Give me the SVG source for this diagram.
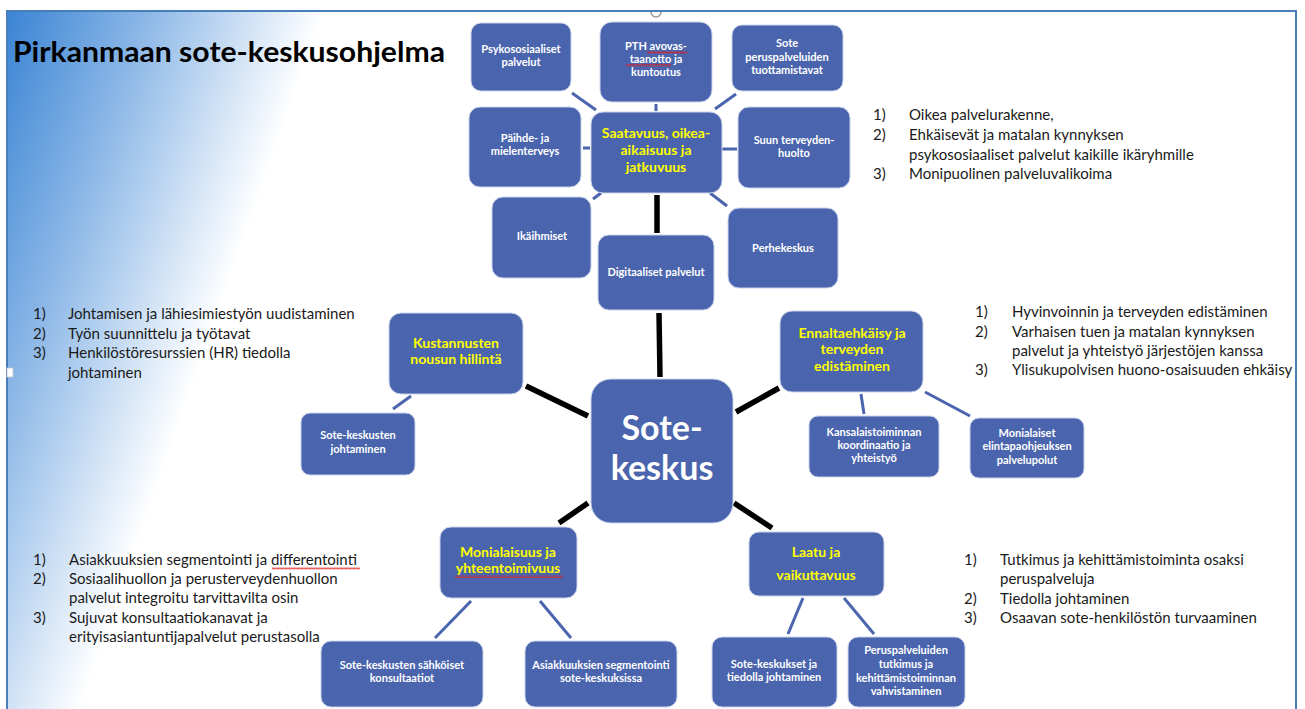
<svg xmlns="http://www.w3.org/2000/svg" width="1305" height="709" viewBox="0 0 1305 709">
<defs>
<linearGradient id="bg" gradientUnits="userSpaceOnUse" x1="7" y1="11" x2="290" y2="110">
<stop offset="0" stop-color="#3a84d4"/>
<stop offset="0.45" stop-color="#8db8e7"/>
<stop offset="1" stop-color="#ffffff"/>
</linearGradient>
<pattern id="squig" patternUnits="userSpaceOnUse" width="4" height="3">
<polyline points="0,2.5 1,0.5 2,2.5 3,0.5 4,2.5" fill="none" stroke="#e02020" stroke-width="0.7"/>
</pattern>
</defs>
<style>
.node{fill:#4a65ae;stroke:#c9d3ea;stroke-width:1}
.nt{font-family:Lato,"Liberation Sans",sans-serif;font-weight:bold;font-size:11px;fill:#ffffff;text-anchor:middle}
.yt{font-family:Lato,"Liberation Sans",sans-serif;font-weight:bold;font-size:14px;fill:#ffff00;text-anchor:middle}
.lt{font-family:Lato,"Liberation Sans",sans-serif;font-size:15px;fill:#1a1a1a}
.thin{stroke:#4a65ae;stroke-width:3;fill:none}
.thick{stroke:#000000;stroke-width:5.5;fill:none}
.sq{fill:url(#squig)}
</style>
<rect x="0" y="0" width="1305" height="709" fill="#ffffff"/>
<rect x="7" y="11" width="1289" height="720" fill="url(#bg)" stroke="#4a7ebb" stroke-width="2"/>
<path d="M651,12 A5,5 0 0 0 661,12" fill="none" stroke="#9a9a9a" stroke-width="1.5"/>
<rect x="7" y="368" width="6" height="9" fill="#ffffff" stroke="#c8c8c8" stroke-width="0.8"/>

<text x="13" y="62" font-family="Lato,'Liberation Sans',sans-serif" font-weight="bold" font-size="28" fill="#000000" textLength="432" lengthAdjust="spacingAndGlyphs">Pirkanmaan sote-keskusohjelma</text>

<g id="connectors">
<line class="thin" x1="572" y1="93" x2="596" y2="110"/>
<line class="thin" x1="656" y1="104" x2="656" y2="111"/>
<line class="thin" x1="736" y1="94" x2="715" y2="109"/>
<line class="thin" x1="583" y1="148" x2="590" y2="148"/>
<line class="thin" x1="722" y1="149" x2="737" y2="149"/>
<line class="thin" x1="593" y1="199" x2="601" y2="193"/>
<line class="thin" x1="710" y1="193" x2="727" y2="206"/>
<line class="thin" x1="393" y1="409" x2="411" y2="396"/>
<line class="thin" x1="861" y1="394" x2="864" y2="414"/>
<line class="thin" x1="925" y1="392" x2="970" y2="416"/>
<line class="thin" x1="471" y1="601" x2="435" y2="638"/>
<line class="thin" x1="540" y1="601" x2="571" y2="638"/>
<line class="thin" x1="803" y1="598" x2="788" y2="634"/>
<line class="thin" x1="844" y1="598" x2="874" y2="634"/>
<line class="thick" x1="657" y1="195" x2="657" y2="233"/>
<line class="thick" x1="659" y1="313" x2="660" y2="377"/>
<line class="thick" x1="526" y1="386" x2="588" y2="416"/>
<line class="thick" x1="736" y1="412" x2="779" y2="388"/>
<line class="thick" x1="588" y1="503" x2="559" y2="523"/>
<line class="thick" x1="734" y1="503" x2="772" y2="528"/>
</g>

<g id="n-psyko"><rect class="node" x="471" y="23" width="100" height="68" rx="10"/>
<text class="nt" x="521" y="53">Psykososiaaliset</text><text class="nt" x="521" y="66">palvelut</text></g>

<g id="n-pth"><rect class="node" x="600" y="22" width="112" height="80" rx="12"/>
<text class="nt" x="656" y="50">PTH avovas-</text><text class="nt" x="656" y="63">taanotto ja</text><text class="nt" x="656" y="76">kuntoutus</text>
<rect class="sq" x="647" y="51" width="40" height="3"/><rect class="sq" x="626" y="64" width="45" height="3"/></g>

<g id="n-soteperus"><rect class="node" x="732" y="25" width="111" height="66" rx="10"/>
<text class="nt" x="787" y="47">Sote</text><text class="nt" x="787" y="61">peruspalveluiden</text><text class="nt" x="787" y="74">tuottamistavat</text></g>

<g id="n-paihde"><rect class="node" x="469" y="107" width="112" height="80" rx="11"/>
<text class="nt" x="525" y="142">Päihde- ja</text><text class="nt" x="525" y="155">mielenterveys</text></g>

<g id="n-saatavuus"><rect class="node" x="591" y="112" width="131" height="81" rx="12"/>
<text class="yt" x="656" y="138">Saatavuus, oikea-</text><text class="yt" x="656" y="155">aikaisuus ja</text><text class="yt" x="656" y="172">jatkuvuus</text></g>

<g id="n-suun"><rect class="node" x="738" y="107" width="112" height="81" rx="11"/>
<text class="nt" x="794" y="144">Suun terveyden-</text><text class="nt" x="794" y="157">huolto</text></g>

<g id="n-ikaihmiset"><rect class="node" x="492" y="197" width="99" height="81" rx="11"/>
<text class="nt" x="542" y="240">Ikäihmiset</text></g>

<g id="n-digi"><rect class="node" x="598" y="235" width="116" height="75" rx="11"/>
<text class="nt" x="656" y="276">Digitaaliset palvelut</text></g>

<g id="n-perhe"><rect class="node" x="728" y="208" width="110" height="80" rx="11"/>
<text class="nt" x="783" y="252">Perhekeskus</text></g>

<g id="n-sote"><rect class="node" x="591" y="379" width="142" height="144" rx="20"/>
<text x="662" y="440" font-family="Lato,'Liberation Sans',sans-serif" font-weight="bold" font-size="34" fill="#ffffff" text-anchor="middle">Sote-</text>
<text x="662" y="480" font-family="Lato,'Liberation Sans',sans-serif" font-weight="bold" font-size="34" fill="#ffffff" text-anchor="middle">keskus</text></g>

<g id="n-kust"><rect class="node" x="389" y="313" width="134" height="81" rx="12"/>
<text class="yt" x="456" y="348">Kustannusten</text><text class="yt" x="456" y="364">nousun hillintä</text></g>

<g id="n-johtaminen"><rect class="node" x="301" y="413" width="114" height="62" rx="9"/>
<text class="nt" x="358" y="439">Sote-keskusten</text><text class="nt" x="358" y="453">johtaminen</text></g>

<g id="n-ennalta"><rect class="node" x="780" y="311" width="143" height="81" rx="12"/>
<text class="yt" x="852" y="338">Ennaltaehkäisy ja</text><text class="yt" x="852" y="354">terveyden</text><text class="yt" x="852" y="371">edistäminen</text></g>

<g id="n-kansalais"><rect class="node" x="809" y="416" width="130" height="61" rx="9"/>
<text class="nt" x="874" y="436">Kansalaistoiminnan</text><text class="nt" x="874" y="449">koordinaatio ja</text><text class="nt" x="874" y="462">yhteistyö</text></g>

<g id="n-elintapa"><rect class="node" x="970" y="418" width="114" height="60" rx="9"/>
<text class="nt" x="1027" y="437">Monialaiset</text><text class="nt" x="1027" y="450">elintapaohjeuksen</text><text class="nt" x="1027" y="464">palvelupolut</text></g>

<g id="n-monial"><rect class="node" x="440" y="527" width="137" height="71" rx="11"/>
<text class="yt" x="508" y="557">Monialaisuus ja</text><text class="yt" x="508" y="573">yhteentoimivuus</text>
<rect class="sq" x="455" y="575" width="108" height="3"/></g>

<g id="n-sahkoiset"><rect class="node" x="321" y="641" width="162" height="66" rx="10"/>
<text class="nt" x="402" y="669">Sote-keskusten sähköiset</text><text class="nt" x="402" y="682">konsultaatiot</text></g>

<g id="n-segment"><rect class="node" x="525" y="641" width="152" height="66" rx="10"/>
<text class="nt" x="601" y="669">Asiakkuuksien segmentointi</text><text class="nt" x="601" y="682">sote-keskuksissa</text></g>

<g id="n-laatu"><rect class="node" x="749" y="532" width="135" height="64" rx="10"/>
<text class="yt" x="816" y="557">Laatu ja</text><text class="yt" x="816" y="580">vaikuttavuus</text></g>

<g id="n-tiedolla"><rect class="node" x="712" y="637" width="125" height="70" rx="10"/>
<text class="nt" x="774" y="668">Sote-keskukset ja</text><text class="nt" x="774" y="681">tiedolla johtaminen</text></g>

<g id="n-tutkimus"><rect class="node" x="848" y="637" width="117" height="70" rx="10"/>
<text class="nt" x="906" y="654">Peruspalveluiden</text><text class="nt" x="906" y="668">tutkimus ja</text><text class="nt" x="906" y="682">kehittämistoiminnan</text><text class="nt" x="906" y="695">vahvistaminen</text></g>

<g id="list-top-right">
<text class="lt" x="873" y="120">1)</text><text class="lt" x="909" y="120">Oikea palvelurakenne,</text>
<text class="lt" x="873" y="140">2)</text><text class="lt" x="909" y="140">Ehkäisevät ja matalan kynnyksen</text>
<text class="lt" x="909" y="160">psykososiaaliset palvelut kaikille ikäryhmille</text>
<text class="lt" x="873" y="179">3)</text><text class="lt" x="909" y="179">Monipuolinen palveluvalikoima</text>
</g>

<g id="list-left">
<text class="lt" x="33" y="319">1)</text><text class="lt" x="68" y="319">Johtamisen ja lähiesimiestyön uudistaminen</text>
<text class="lt" x="33" y="339">2)</text><text class="lt" x="68" y="339">Työn suunnittelu ja työtavat</text>
<text class="lt" x="33" y="358">3)</text><text class="lt" x="68" y="358">Henkilöstöresurssien (HR) tiedolla</text>
<text class="lt" x="68" y="378">johtaminen</text>
</g>

<g id="list-right">
<text class="lt" x="975" y="317">1)</text><text class="lt" x="1012" y="317">Hyvinvoinnin ja terveyden edistäminen</text>
<text class="lt" x="975" y="337">2)</text><text class="lt" x="1012" y="337">Varhaisen tuen ja matalan kynnyksen</text>
<text class="lt" x="1012" y="356">palvelut ja yhteistyö järjestöjen kanssa</text>
<text class="lt" x="975" y="375">3)</text><text class="lt" x="1012" y="375">Ylisukupolvisen huono-osaisuuden ehkäisy</text>
</g>

<g id="list-bottom-left">
<text class="lt" x="33" y="565">1)</text><text class="lt" x="69" y="565">Asiakkuuksien segmentointi ja differentointi</text>
<rect class="sq" x="272" y="567" width="88" height="3"/>
<text class="lt" x="33" y="584">2)</text><text class="lt" x="69" y="584">Sosiaalihuollon ja perusterveydenhuollon</text>
<text class="lt" x="69" y="603">palvelut integroitu tarvittavilta osin</text>
<text class="lt" x="33" y="623">3)</text><text class="lt" x="69" y="623">Sujuvat konsultaatiokanavat ja</text>
<text class="lt" x="69" y="642">erityisasiantuntijapalvelut perustasolla</text>
</g>

<g id="list-bottom-right">
<text class="lt" x="964" y="565">1)</text><text class="lt" x="1000" y="565">Tutkimus ja kehittämistoiminta osaksi</text>
<text class="lt" x="1000" y="584">peruspalveluja</text>
<text class="lt" x="964" y="604">2)</text><text class="lt" x="1000" y="604">Tiedolla johtaminen</text>
<text class="lt" x="964" y="623">3)</text><text class="lt" x="1000" y="623">Osaavan sote-henkilöstön turvaaminen</text>
</g>
</svg>
